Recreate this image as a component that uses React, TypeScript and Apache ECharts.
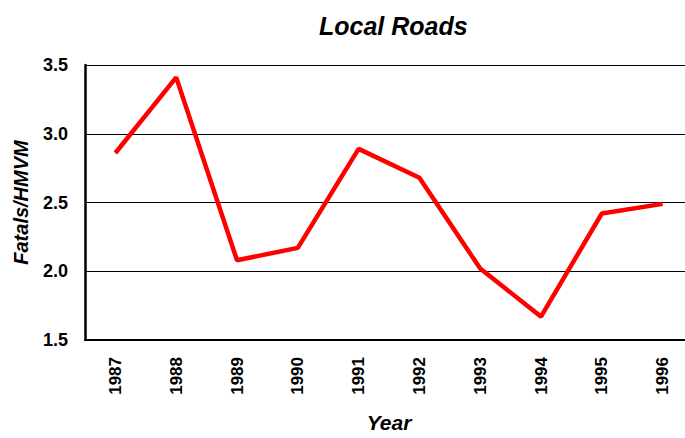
import React, { useEffect, useRef } from "react";
import * as echarts from "echarts";

const years = ["1987", "1988", "1989", "1990", "1991", "1992", "1993", "1994", "1995", "1996"];
const fatalsPerHMVM = [2.86, 3.41, 2.08, 2.17, 2.89, 2.68, 2.02, 1.67, 2.42, 2.49];
const yTicks = [1.5, 2.0, 2.5, 3.0, 3.5];

const FONT = "'Liberation Sans', Arial, sans-serif";

export default function App() {
  const ref = useRef<HTMLDivElement>(null);
  useEffect(() => {
    if (!ref.current) return;
    const chart = echarts.init(ref.current, undefined, { renderer: "svg" });
    chart.setOption({
      animation: false,
      backgroundColor: "#ffffff",
      title: {
        text: "Local Roads",
        left: 314,
        top: 8,
        textStyle: { fontFamily: FONT, fontSize: 25, fontWeight: "bold", fontStyle: "italic", color: "#000" },
      },
      grid: { left: 85, top: 65, width: 608, height: 279, containLabel: false },
      xAxis: {
        type: "category",
        data: years,
        boundaryGap: true,
        name: "Year",
        nameLocation: "middle",
        nameGap: 72,
        nameTextStyle: { fontFamily: FONT, fontSize: 21, fontWeight: "bold", fontStyle: "italic", color: "#000" },
        axisLine: { show: true, lineStyle: { color: "#000", width: 2 } },
        axisTick: { show: false },
        axisLabel: { rotate: 90, margin: 17, fontFamily: FONT, fontSize: 17, fontWeight: "bold", color: "#000" },
        splitLine: { show: false },
      },
      yAxis: {
        type: "value",
        min: yTicks[0],
        max: yTicks[yTicks.length - 1],
        interval: 0.5,
        name: "Fatals/HMVM",
        nameLocation: "middle",
        nameGap: 54,
        nameTextStyle: { fontFamily: FONT, fontSize: 20, fontWeight: "bold", fontStyle: "italic", color: "#000" },
        axisLine: { show: true, lineStyle: { color: "#000", width: 2.5 } },
        axisTick: { show: false },
        axisLabel: {
          margin: 17,
          fontFamily: FONT,
          fontSize: 18,
          fontWeight: "bold",
          color: "#000",
          formatter: (v: number) => v.toFixed(1),
        },
        splitLine: { show: true, lineStyle: { color: "#000", width: 1 } },
      },
      series: [
        {
          type: "line",
          data: fatalsPerHMVM,
          showSymbol: false,
          symbol: "none",
          lineStyle: { color: "#ff0000", width: 4.5 },
        },
      ],
    });
    return () => chart.dispose();
  }, []);
  return (
    <div
      ref={ref}
      style={{ position: "fixed", left: 0, top: 0, width: 700, height: 438 }}
    />
  );
}
